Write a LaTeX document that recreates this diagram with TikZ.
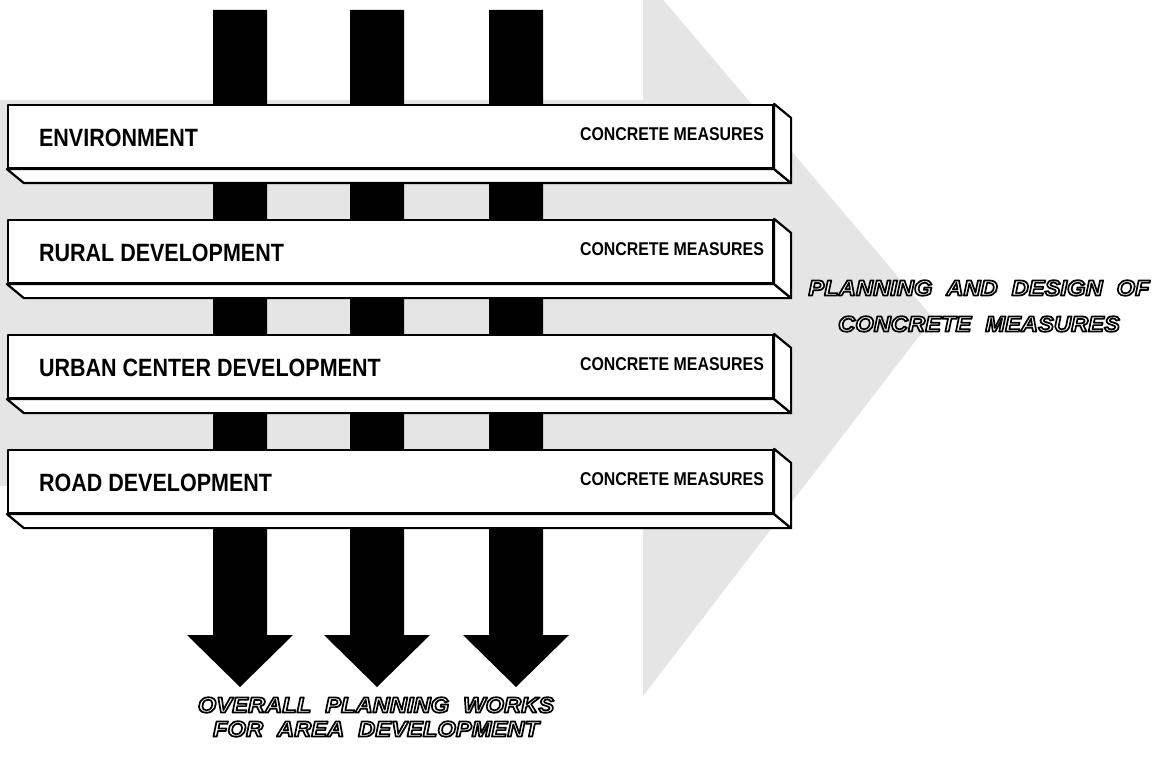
\documentclass[tikz,border=0pt]{standalone}
\usepackage{fontspec}
\setmainfont{Liberation Sans}
\newfontface\lblfont{Liberation Sans Bold}[FakeStretch=0.86]
\newfontface\olfont{Liberation Sans Bold Italic}[FakeStretch=1.08,WordSpace=2.1]
\usetikzlibrary{calc}
\newcommand{\olText}[1]{\textcolor{white}{\special{pdf:literal direct 2 Tr 1.7 w 0 G 1 j}#1\special{pdf:literal direct 0 Tr}}}
\begin{document}
\begin{tikzpicture}[x=1pt,y=-1pt,line join=round,
  slab/.style={draw=black,line width=2.2pt,fill=white,minimum width=765pt,minimum height=63pt,inner sep=0pt},
  face/.style={draw=black,line width=2.2pt,fill=white},
  stipple/.style={fill=black!10},
  boxlabel/.style={font=\lblfont\fontsize{25}{25}\selectfont,anchor=west,inner sep=0pt},
  measuretext/.style={font=\lblfont\fontsize{18.5}{18.5}\selectfont,anchor=east,inner sep=0pt},
  outtext/.style={font=\olfont\fontsize{22}{#1}\selectfont,align=center,inner sep=0pt}]
\useasboundingbox (0,0) rectangle (1165,757);
\clip (0,0) rectangle (1165,757);
% stippled background arrow
\path[stipple] (0,100) -- (643,100) -- (643,-24) -- (933,318) -- (643,696) -- (643,486) -- (0,486) -- cycle;
% black vertical arrows
\foreach \cx in {240,377,516}{
  \fill[black] (\cx-27,10) -- (\cx+27,10) -- (\cx+27,635) -- (\cx+53,635) -- (\cx,687) -- (\cx-53,635) -- (\cx-27,635) -- cycle;
}
% slabs
\foreach \t/\name/\txt in {105/b1/ENVIRONMENT,220/b2/RURAL DEVELOPMENT,335/b3/URBAN CENTER DEVELOPMENT,450/b4/ROAD DEVELOPMENT}{
  \node[slab] (\name) at (390.5,\t+31.5) {};
  \path[face] (\name.south west) -- ($(\name.south west)+(17,14)$) -- ($(\name.south east)+(17,14)$) -- (\name.south east) -- cycle;
  \path[face] (\name.north east) -- ($(\name.north east)+(17,14)$) -- ($(\name.south east)+(17,14)$) -- (\name.south east) -- cycle;
  \node[boxlabel] (\name l) at ($(\name.west)+(32,1.5)$) {\txt};
  \node[measuretext] (\name c) at ($(\name.east)+(-10,-2)$) {CONCRETE MEASURES};
}
% outlined captions
\node[outtext=36] (plan) at (979,306) {\olText{PLANNING AND DESIGN OF}\\\olText{CONCRETE MEASURES}};
\node[outtext=24] (overall) at (376,717) {\olText{OVERALL PLANNING WORKS}\\\olText{FOR AREA DEVELOPMENT}};
\end{tikzpicture}
\end{document}
